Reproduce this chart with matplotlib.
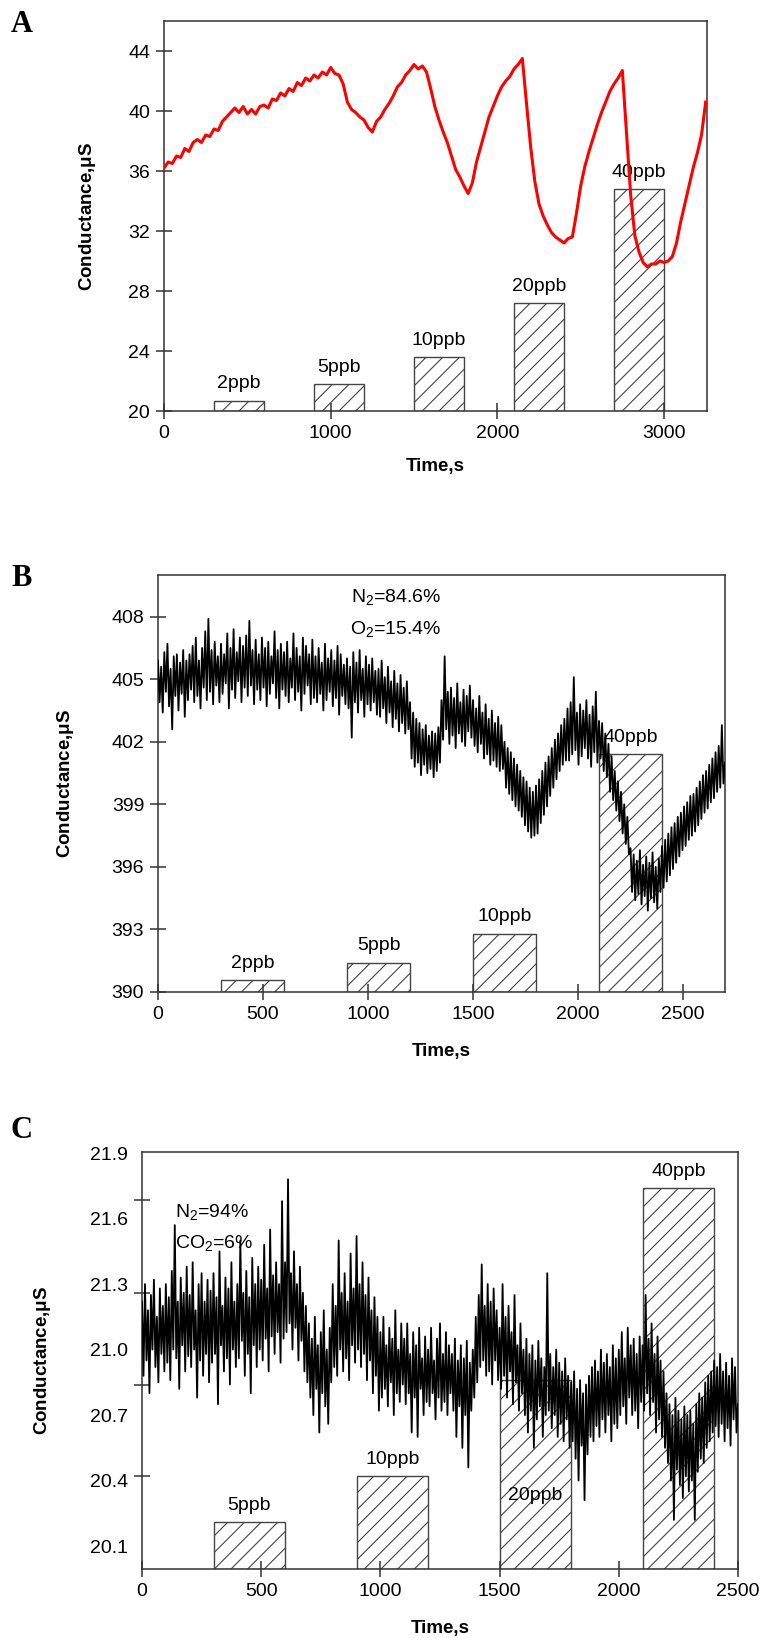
import matplotlib
matplotlib.use('Agg')
import matplotlib.pyplot as plt
import numpy as np

plt.rcParams['font.family'] = ['Liberation Sans', 'DejaVu Sans']
plt.rcParams['mathtext.fontset'] = 'custom'
plt.rcParams['mathtext.rm'] = 'Liberation Sans'
plt.rcParams['hatch.linewidth'] = 0.8

# panel A: conductance every 25 s, 0..3250 s
cond_A = [36.2, 36.6, 36.5, 37.0, 36.9, 37.5, 37.3, 37.9, 38.1, 37.9, 38.4, 38.3,
          38.8, 38.7, 39.3, 39.6, 39.9, 40.2, 39.9, 40.3, 39.8, 40.1, 39.8, 40.3,
          40.4, 40.2, 40.8, 40.7, 41.2, 41.0, 41.5, 41.3, 41.9, 41.7, 42.2, 42.0,
          42.4, 42.2, 42.6, 42.4, 42.9, 42.5, 42.4, 41.8, 40.6, 40.1, 39.9, 39.6,
          39.4, 38.9, 38.6, 39.3, 39.6, 40.1, 40.5, 41.0, 41.6, 41.9, 42.4, 42.7,
          43.1, 42.8, 43.0, 42.6, 41.5, 40.3, 39.4, 38.6, 37.9, 37.0, 36.1, 35.6,
          35.0, 34.5, 35.2, 36.6, 37.6, 38.6, 39.6, 40.3, 41.0, 41.6, 42.0, 42.3,
          42.8, 43.1, 43.5, 40.5, 37.6, 35.3, 33.8, 33.0, 32.4, 31.9, 31.6, 31.4,
          31.2, 31.5, 31.6, 33.2, 35.0, 36.3, 37.3, 38.2, 39.1, 39.9, 40.6, 41.3,
          41.8, 42.2, 42.7, 38.6, 34.4, 31.7, 30.6, 29.9, 29.6, 29.8, 29.8, 30.0,
          29.9, 30.0, 30.3, 31.2, 32.6, 33.8, 35.0, 36.2, 37.2, 38.4, 40.6]
time_A = np.linspace(0, 3250, len(cond_A))
bar_start_A = [300, 900, 1500, 2100, 2700]
bar_top_A = [20.7, 21.8, 23.6, 27.2, 34.8]
bar_label_A = ['2ppb', '5ppb', '10ppb', '20ppb', '40ppb']

# panel B: conductance every 7.5 s, 0..2700 s
cond_B = [
    405.9, 403.9, 405.6, 403.4, 406.3, 404.4, 406.7, 403.7, 405.5, 402.6, 406.1, 404.2, 406.2, 403.5, 405.8, 404.3, 406.4, 403.2, 405.9, 404.0,
    406.2, 404.5, 406.6, 403.9, 407.0, 404.2, 405.9, 403.6, 406.5, 404.6, 407.3, 404.0, 407.9, 404.4, 406.4, 403.8, 406.8, 404.7, 406.1, 403.9,
    406.7, 404.3, 406.2, 404.8, 407.2, 403.6, 406.5, 404.5, 407.4, 404.1, 406.3, 404.9, 407.0, 403.9, 406.6, 404.6, 407.1, 404.2, 407.8, 404.7,
    406.4, 403.8, 406.9, 404.5, 406.2, 404.0, 407.0, 404.6, 406.5, 403.7, 406.8, 404.3, 406.1, 404.8, 407.3, 404.1, 406.4, 403.6, 406.7, 404.5,
    406.3, 404.2, 406.8, 403.9, 406.0, 404.6, 407.2, 404.0, 406.5, 404.4, 406.1, 403.5, 407.0, 404.3, 406.6, 404.7, 406.2, 403.8, 406.9, 404.1,
    406.1, 403.9, 406.5, 404.3, 405.8, 403.5, 406.7, 404.0, 406.0, 404.4, 406.4, 403.7, 405.9, 404.1, 406.6, 403.3, 406.2, 404.2, 405.7, 403.8,
    406.0, 403.6, 405.6, 402.2, 406.3, 403.9, 405.8, 403.4, 406.4, 404.0, 405.5, 403.2, 406.1, 403.8, 405.7, 403.5, 406.0, 403.9, 405.4, 403.3,
    405.5, 403.2, 405.9, 403.6, 405.1, 402.9, 405.6, 403.4, 404.9, 402.7, 405.4, 403.1, 404.8, 402.5, 405.2, 402.9, 404.6, 402.4, 404.9, 402.6,
    403.9, 401.2, 403.4, 400.8, 403.1, 401.0, 402.9, 400.4, 402.6, 400.9, 402.8, 400.5, 402.3, 400.7, 402.5, 400.3, 402.4, 400.6, 402.7, 401.0,
    404.0, 402.1, 406.1, 402.6, 404.4, 401.9, 404.6, 402.3, 404.1, 401.7, 404.8, 402.4, 403.9, 402.0, 404.5, 401.8, 404.2, 402.5, 404.7, 402.2,
    404.0, 401.8, 403.6, 401.5, 404.2, 401.9, 403.4, 401.2, 403.8, 401.4, 403.1, 400.9, 403.5, 401.1, 402.9, 400.8, 403.2, 400.6, 402.8, 400.7,
    402.0, 399.8, 401.7, 399.5, 401.5, 399.2, 401.2, 398.9, 400.9, 398.7, 400.6, 398.4, 400.3, 398.0, 400.1, 397.7, 399.8, 397.4, 399.6, 397.5,
    399.9, 397.6, 400.2, 398.1, 400.6, 398.5, 401.0, 398.9, 401.3, 399.4, 401.7, 399.8, 402.1, 400.2, 402.4, 400.6, 402.8, 400.9, 403.1, 401.1,
    403.6, 401.1, 403.9, 401.4, 405.1, 401.6, 403.4, 400.9, 403.8, 401.3, 403.5, 401.7, 404.0, 401.2, 403.3, 400.8, 403.7, 401.5, 404.4, 401.0,
    403.0, 401.2, 402.9, 400.6, 402.4, 400.3, 401.9, 399.6, 401.3, 399.2, 400.6, 398.7, 400.1, 398.2, 399.6, 397.6, 399.0, 397.1, 398.4, 396.6,
    396.9, 394.8, 396.6, 394.4, 396.3, 394.7, 396.8, 394.2, 396.1, 394.6, 396.5, 393.9, 396.2, 394.5, 396.7, 394.3, 396.0, 394.0, 396.4, 394.8,
    397.0, 395.0, 397.3, 395.3, 397.6, 395.6, 397.9, 395.9, 398.1, 396.2, 398.4, 396.5, 398.6, 396.8, 398.9, 397.0, 399.1, 397.3, 399.4, 397.5,
    399.5, 397.7, 399.8, 398.0, 400.1, 398.3, 400.4, 398.6, 400.6, 398.8, 400.9, 399.1, 401.2, 399.3, 401.5, 399.6, 401.8, 399.8, 402.8, 400.0,
    401.0]
time_B = np.linspace(0, 2700, len(cond_B))
bar_start_B = [300, 900, 1500, 2100]
bar_top_B = [390.58, 391.4, 392.8, 401.4]
bar_label_B = ['2ppb', '5ppb', '10ppb', '40ppb']

# panel C: conductance every 6.25 s, 0..2500 s
cond_C = [
    21.22, 20.88, 21.30, 20.95, 21.18, 20.80, 21.25, 21.00, 21.32, 20.92, 21.15, 20.85, 21.28, 20.98, 21.20, 20.90,
    21.30, 20.94, 21.24, 20.86, 21.36, 21.00, 21.57, 20.96, 21.22, 20.82, 21.33, 21.02, 21.26, 20.90, 21.38, 20.97,
    21.25, 20.92, 21.40, 21.00, 21.18, 20.78, 21.30, 20.95, 21.35, 20.88, 21.22, 20.98, 21.32, 20.85, 21.27, 20.94,
    21.35, 20.98, 21.24, 20.75, 21.45, 21.02, 21.20, 20.90, 21.33, 20.96, 21.28, 20.84, 21.40, 21.00, 21.22, 20.92,
    21.30, 20.96, 21.50, 21.04, 21.26, 20.88, 21.36, 20.98, 21.24, 20.80, 21.42, 21.02, 21.30, 20.92, 21.38, 21.00,
    21.32, 20.95, 21.48, 21.05, 21.28, 20.90, 21.55, 21.06, 21.34, 20.98, 21.40, 21.08, 21.30, 20.94, 21.68, 21.05,
    21.40, 21.08, 21.78, 21.12, 21.35, 21.00, 21.45, 21.10, 21.30, 20.95, 21.38, 21.04, 21.26, 20.90, 21.20, 20.85,
    21.12, 20.78, 21.05, 20.70, 21.15, 20.82, 21.02, 20.62, 21.08, 20.80, 21.18, 20.74, 21.00, 20.66, 21.10, 20.85,
    21.30, 20.92, 21.20, 20.88, 21.50, 21.00, 21.26, 20.90, 21.35, 20.96, 21.22, 20.86, 21.44, 21.02, 21.28, 20.94,
    21.52, 21.00, 21.30, 20.92, 21.40, 20.98, 21.25, 20.86, 21.33, 20.95, 21.18, 20.80, 21.24, 20.88, 21.15, 20.72,
    21.08, 20.78, 21.15, 20.82, 21.02, 20.74, 21.10, 20.85, 21.05, 20.70, 21.18, 20.80, 21.00, 20.76, 21.12, 20.84,
    21.05, 20.75, 21.12, 20.80, 20.98, 20.62, 21.08, 20.78, 21.02, 20.60, 21.10, 20.82, 20.96, 20.70, 21.06, 20.76,
    21.00, 20.74, 21.10, 20.80, 20.95, 20.68, 21.05, 20.78, 21.12, 20.72, 20.98, 20.76, 21.08, 20.70, 21.02, 20.80,
    20.98, 20.72, 21.05, 20.60, 20.95, 20.74, 21.02, 20.55, 20.96, 20.70, 21.04, 20.46, 20.94, 20.72, 21.00, 20.78,
    21.15, 20.85, 21.25, 20.92, 21.39, 20.95, 21.20, 20.88, 21.30, 20.90, 21.22, 20.84, 21.28, 20.95, 21.18, 20.86,
    21.10, 20.82, 21.30, 20.88, 21.15, 20.78, 21.20, 20.90, 21.08, 20.75, 21.25, 20.85, 21.02, 20.72, 21.12, 20.80,
    21.00, 20.70, 21.05, 20.62, 20.98, 20.72, 21.02, 20.55, 20.95, 20.68, 21.04, 20.74, 20.96, 20.60, 20.92, 20.70,
    21.35, 20.72, 20.98, 20.64, 20.92, 20.70, 21.00, 20.60, 20.94, 20.66, 20.90, 20.58, 20.96, 20.68, 20.88, 20.55,
    20.85, 20.58, 20.90, 20.50, 20.82, 20.40, 20.86, 20.56, 20.80, 20.31, 20.84, 20.52, 20.88, 20.60, 20.92, 20.58,
    20.95, 20.65, 20.90, 20.60, 21.00, 20.68, 20.94, 20.62, 20.98, 20.70, 20.92, 20.58, 21.02, 20.66, 20.96, 20.64,
    21.00, 20.70, 21.08, 20.74, 20.96, 20.66, 21.10, 20.78, 21.02, 20.70, 21.05, 20.72, 20.98, 20.64, 21.06, 20.76,
    21.02, 20.72, 21.25, 20.80, 21.05, 20.70, 21.12, 20.76, 20.98, 20.62, 21.06, 20.68, 20.95, 20.60, 20.90, 20.55,
    20.80, 20.48, 20.75, 20.40, 20.70, 20.22, 20.78, 20.45, 20.72, 20.38, 20.68, 20.32, 20.74, 20.42, 20.70, 20.35,
    20.72, 20.40, 20.66, 20.22, 20.75, 20.44, 20.80, 20.50, 20.78, 20.48, 20.85, 20.55, 20.88, 20.58, 20.90, 20.62,
    20.95, 20.65, 20.92, 20.60, 20.98, 20.66, 20.90, 20.58, 20.94, 20.64, 20.88, 20.56, 20.96, 20.68, 20.92, 20.62,
    20.75]
time_C = np.linspace(0, 2500, len(cond_C))
bar_start_C = [300, 900, 1500, 2100]
bar_top_C = [20.21, 20.42, 20.86, 21.74]
bar_label_C = ['5ppb', '10ppb', '20ppb', '40ppb']

W, H = 762, 1638
fig = plt.figure(figsize=(W / 100, H / 100), dpi=100)


def make_ax(l, t, r, b):
    return fig.add_axes([l / W, 1 - b / H, (r - l) / W, (b - t) / H])


def style(ax):
    for s in ax.spines.values():
        s.set_linewidth(1.1)
        s.set_color('#333333')
    ax.tick_params(direction='inout', length=12, width=1.1, color='#333333',
                   labelsize=14, pad=4, top=False, right=False)


def bars(ax, starts, tops, labels, base, skip=None):
    ax.bar(starts, [t - base for t in tops], bottom=base, width=300, align='edge',
           facecolor='white', edgecolor='#444444', hatch='//', linewidth=1.0, zorder=1)
    for s, t, lab in zip(starts, tops, labels):
        if lab == skip:
            continue
        ax.annotate(lab, (s + 150, t), xytext=(0, 6), textcoords='offset points',
                    ha='center', va='bottom', fontsize=14)


# ---- A ----
axA = make_ax(164, 21, 707, 411)
bars(axA, bar_start_A, bar_top_A, bar_label_A, 20)
axA.plot(time_A, cond_A, color='#ff0000', lw=2.2, zorder=3)
axA.set_xlim(0, 3258)
axA.set_ylim(20, 46)
axA.set_xticks([0, 1000, 2000, 3000])
axA.set_yticks([20, 24, 28, 32, 36, 40, 44])
style(axA)
axA.set_xlabel('Time,s', fontsize=13.5, fontweight='bold')
axA.set_ylabel('Conductance,$\\mathregular{\\mu}$S', fontsize=13.5, fontweight='bold')
axA.xaxis.set_label_coords(0.5, -0.12)
axA.yaxis.set_label_coords(-0.122, 0.5)

# ---- B ----
axB = make_ax(158, 575, 725, 992)
bars(axB, bar_start_B, bar_top_B, bar_label_B, 390)
axB.plot(time_B, cond_B, color='black', lw=1.3, zorder=3)
axB.set_xlim(0, 2700)
axB.set_ylim(390, 410)
axB.set_xticks([0, 500, 1000, 1500, 2000, 2500])
axB.set_yticks([390, 393, 396, 399, 402, 405, 408])
style(axB)
axB.text(0.42, 0.945, 'N$_\\mathregular{2}$=84.6%', transform=axB.transAxes,
         ha='center', va='center', fontsize=14)
axB.text(0.42, 0.868, 'O$_\\mathregular{2}$=15.4%', transform=axB.transAxes,
         ha='center', va='center', fontsize=14)
axB.set_xlabel('Time,s', fontsize=13.5, fontweight='bold')
axB.set_ylabel('Conductance,$\\mathregular{\\mu}$S', fontsize=13.5, fontweight='bold')
axB.xaxis.set_label_coords(0.5, -0.122)
axB.yaxis.set_label_coords(-0.145, 0.5)

# ---- C ----
axC = make_ax(142, 1152, 738, 1569)
bars(axC, bar_start_C, bar_top_C, bar_label_C, 19.995, skip='20ppb')
axC.text(1650, 20.33, '20ppb', ha='center', va='center', fontsize=14, zorder=4)
axC.plot(time_C, cond_C, color='black', lw=1.3, zorder=3)
axC.set_xlim(0, 2500)
axC.set_ylim(19.995, 21.905)
axC.set_xticks([0, 500, 1000, 1500, 2000, 2500])
axC.set_yticks([20.1, 20.4, 20.7, 21.0, 21.3, 21.6, 21.9])
axC.set_yticks([20.42, 20.84, 21.26, 21.686], minor=True)
style(axC)
axC.tick_params(axis='y', which='major', length=0, pad=10)
axC.tick_params(axis='y', which='minor', direction='inout', length=12, width=1.1,
                color='#333333')
axC.text(0.055, 0.855, 'N$_\\mathregular{2}$=94%', transform=axC.transAxes,
         ha='left', va='center', fontsize=14)
axC.text(0.055, 0.78, 'CO$_\\mathregular{2}$=6%', transform=axC.transAxes,
         ha='left', va='center', fontsize=14)
axC.set_xlabel('Time,s', fontsize=13.5, fontweight='bold')
axC.set_ylabel('Conductance,$\\mathregular{\\mu}$S', fontsize=13.5, fontweight='bold')
axC.xaxis.set_label_coords(0.5, -0.122)
axC.yaxis.set_label_coords(-0.149, 0.5)

# panel letters
for letter, y in [('A', 24), ('B', 578), ('C', 1131)]:
    fig.text(22 / W, 1 - y / H, letter, family='Liberation Serif', fontweight='bold',
             fontsize=22, ha='center', va='center')

fig.savefig('out.png', dpi=100)
